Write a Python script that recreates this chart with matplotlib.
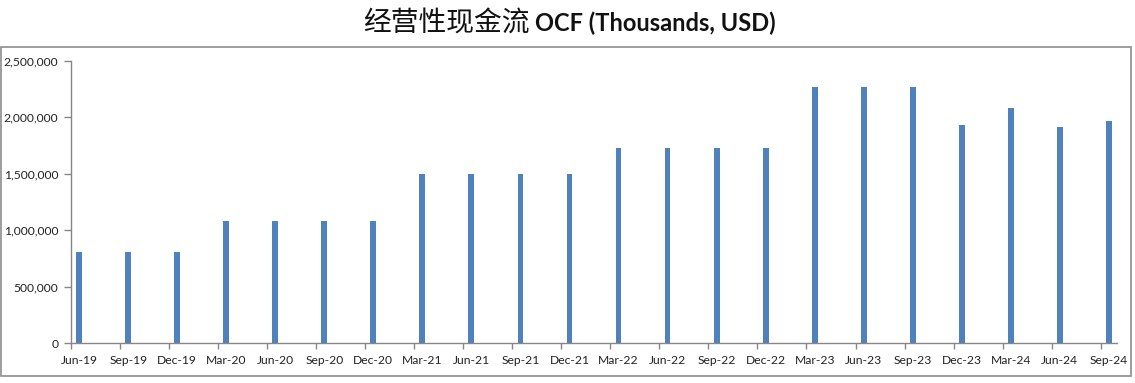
import numpy as np
import matplotlib.pyplot as plt
from matplotlib.patches import Rectangle
from matplotlib.ticker import FuncFormatter

quarters = ["Jun-19", "Sep-19", "Dec-19", "Mar-20", "Jun-20", "Sep-20", "Dec-20",
            "Mar-21", "Jun-21", "Sep-21", "Dec-21", "Mar-22", "Jun-22", "Sep-22",
            "Dec-22", "Mar-23", "Jun-23", "Sep-23", "Dec-23", "Mar-24", "Jun-24", "Sep-24"]
ocf = [805000, 805000, 805000, 1080000, 1080000, 1080000, 1080000,
       1500000, 1500000, 1500000, 1500000, 1731000, 1731000, 1731000,
       1731000, 2269000, 2269000, 2269000, 1932000, 2083000, 1914000, 1968000]

blue = "#4F81BD"
grey = "#868686"

fig = plt.figure(figsize=(11.35, 3.83), dpi=100)
ax = fig.add_axes([71 / 1135, 1 - 343 / 383, (1117 - 71) / 1135, (343 - 61) / 383])

# monthly date axis: one quarter every 3 month slots
months = np.arange(len(quarters)) * 3
ax.bar(months, ocf, width=0.36, color=blue, zorder=2)

ax.set_xlim(-0.5, months[-1] + 0.5)
ax.set_ylim(0, 2500000)
ax.set_yticks(np.arange(0, 2500001, 500000))
ax.yaxis.set_major_formatter(FuncFormatter(lambda v, p: f"{int(v):,}"))

ax.set_xticks(months)
ax.set_xticklabels(quarters)
ax.set_xticks(months - 0.5, minor=True)
ax.tick_params(axis="x", which="major", length=0, pad=9)
ax.tick_params(axis="x", which="minor", length=4, color=grey, width=1)
ax.tick_params(axis="y", length=5, color=grey, width=1, pad=4)
for lab in ax.get_xticklabels() + ax.get_yticklabels():
    lab.set_fontfamily("Lato")
    lab.set_fontsize(8.7)
    lab.set_color("#222222")

for side in ["top", "right"]:
    ax.spines[side].set_visible(False)
for side in ["left", "bottom"]:
    ax.spines[side].set_color(grey)
    ax.spines[side].set_linewidth(1)

# chart area border
fig.patches.append(Rectangle((0.5 / 1135, 7 / 383), 1130.5 / 1135, 329 / 383,
                             transform=fig.transFigure, fill=False,
                             edgecolor="#8c8c8c", linewidth=1.2))

fig.text(0.467, 0.94, "经营性现金流", ha="right", va="center", fontsize=20,
         family=["Noto Sans CJK SC", "DejaVu Sans"], color="#111111")
fig.text(0.471, 0.94, "OCF (Thousands, USD)", ha="left", va="center", fontsize=17,
         family="Lato", fontweight="bold", color="#111111")

fig.savefig("out.png", dpi=100)
